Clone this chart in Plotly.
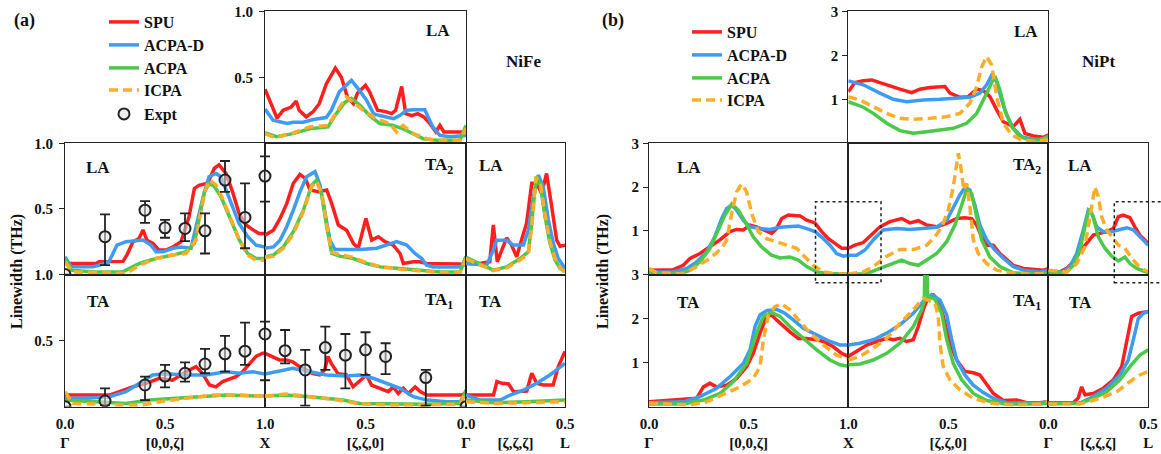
import plotly.graph_objects as go

# ======================= DATA : NiFe (panel a) =======================
# zeta along each path, linewidth in THz
# [zeta,zeta,0] LA (top row, X -> Gamma)
FE_XG_LA_SPU_Z = [1.0, 0.94, 0.91, 0.87, 0.845, 0.83, 0.795, 0.76, 0.73, 0.695, 0.65, 0.62, 0.59, 0.56, 0.54, 0.50, 0.48, 0.44, 0.40, 0.37, 0.35, 0.32, 0.30, 0.27, 0.24, 0.21, 0.18, 0.15, 0.13, 0.11, 0.08, 0.0]
FE_XG_LA_SPU_W = [0.41, 0.19, 0.25, 0.275, 0.32, 0.25, 0.20, 0.24, 0.30, 0.45, 0.57, 0.50, 0.35, 0.30, 0.38, 0.44, 0.39, 0.25, 0.24, 0.225, 0.25, 0.43, 0.225, 0.21, 0.225, 0.20, 0.15, 0.086, 0.136, 0.086, 0.086, 0.086]
FE_XG_LA_ACPAD_Z = [1.0, 0.96, 0.89, 0.86, 0.81, 0.76, 0.695, 0.67, 0.63, 0.595, 0.57, 0.535, 0.495, 0.46, 0.43, 0.36, 0.33, 0.295, 0.26, 0.205, 0.19, 0.165, 0.13, 0.08, 0.0]
FE_XG_LA_ACPAD_W = [0.26, 0.175, 0.15, 0.16, 0.16, 0.18, 0.195, 0.25, 0.39, 0.44, 0.477, 0.41, 0.326, 0.225, 0.21, 0.187, 0.21, 0.25, 0.255, 0.255, 0.21, 0.124, 0.06, 0.05, 0.06]
FE_XG_LA_ACPA_Z = [1.0, 0.944, 0.861, 0.778, 0.687, 0.645, 0.603, 0.57, 0.529, 0.479, 0.429, 0.362, 0.313, 0.263, 0.213, 0.146, 0.03, 0.0]
FE_XG_LA_ACPA_W = [0.08, 0.05, 0.073, 0.11, 0.124, 0.225, 0.31, 0.34, 0.29, 0.21, 0.15, 0.136, 0.11, 0.073, 0.035, 0.023, 0.023, 0.136]
FE_XG_LA_ICPA_Z = [1.0, 0.953, 0.861, 0.778, 0.687, 0.645, 0.595, 0.562, 0.512, 0.446, 0.379, 0.346, 0.313, 0.263, 0.196, 0.146, 0.03, 0.0]
FE_XG_LA_ICPA_W = [0.073, 0.043, 0.078, 0.124, 0.136, 0.237, 0.351, 0.313, 0.25, 0.187, 0.149, 0.086, 0.136, 0.073, 0.035, 0.023, 0.023, 0.111]

# [0,0,zeta] LA (Gamma -> X, middle row)
FE_GX_LA_SPU_Z = [0.0, 0.155, 0.17, 0.22, 0.29, 0.31, 0.34, 0.37, 0.39, 0.41, 0.44, 0.47, 0.505, 0.54, 0.58, 0.62, 0.647, 0.67, 0.713, 0.747, 0.77, 0.805, 0.84, 0.87, 0.905, 0.94, 0.97, 1.0]
FE_GX_LA_SPU_W = [0.084, 0.084, 0.097, 0.10, 0.10, 0.15, 0.25, 0.275, 0.34, 0.26, 0.237, 0.186, 0.186, 0.21, 0.25, 0.44, 0.656, 0.68, 0.695, 0.81, 0.835, 0.77, 0.62, 0.466, 0.377, 0.34, 0.313, 0.313]
FE_GX_LA_ACPAD_Z = [0.0, 0.03, 0.14, 0.17, 0.22, 0.26, 0.305, 0.39, 0.43, 0.455, 0.49, 0.54, 0.58, 0.63, 0.663, 0.697, 0.72, 0.755, 0.78, 0.82, 0.87, 0.913, 0.955, 1.0]
FE_GX_LA_ACPAD_W = [0.135, 0.06, 0.06, 0.07, 0.097, 0.224, 0.25, 0.262, 0.224, 0.173, 0.173, 0.2, 0.21, 0.2, 0.415, 0.63, 0.745, 0.77, 0.745, 0.593, 0.39, 0.29, 0.224, 0.21]
FE_GX_LA_ACPA_Z = [0.0, 0.03, 0.155, 0.288, 0.372, 0.455, 0.538, 0.605, 0.647, 0.672, 0.697, 0.722, 0.747, 0.78, 0.822, 0.872, 0.913, 0.955, 1.0]
FE_GX_LA_ACPA_W = [0.122, 0.033, 0.02, 0.02, 0.084, 0.122, 0.148, 0.173, 0.237, 0.44, 0.63, 0.695, 0.67, 0.593, 0.44, 0.262, 0.16, 0.122, 0.122]
FE_GX_LA_ICPA_Z = [0.0, 0.038, 0.305, 0.372, 0.455, 0.538, 0.605, 0.655, 0.68, 0.705, 0.725, 0.755, 0.788, 0.83, 0.872, 0.913, 0.955, 1.0]
FE_GX_LA_ICPA_W = [0.097, 0.02, 0.008, 0.071, 0.122, 0.148, 0.16, 0.262, 0.491, 0.656, 0.72, 0.682, 0.58, 0.427, 0.262, 0.148, 0.109, 0.109]

# [zeta,zeta,0] TA2 (X -> Gamma, middle row)
FE_XG_TA2_SPU_Z = [1.0, 0.958, 0.925, 0.892, 0.859, 0.826, 0.80, 0.776, 0.735, 0.693, 0.668, 0.635, 0.594, 0.56, 0.536, 0.498, 0.469, 0.436, 0.403, 0.362, 0.328, 0.312, 0.262, 0.229, 0.196, 0.146, 0.096, 0.03, 0.0]
FE_XG_TA2_SPU_W = [0.30, 0.338, 0.427, 0.54, 0.695, 0.763, 0.733, 0.644, 0.631, 0.644, 0.54, 0.377, 0.338, 0.237, 0.20, 0.427, 0.262, 0.288, 0.25, 0.224, 0.16, 0.084, 0.097, 0.097, 0.084, 0.084, 0.08, 0.08, 0.072]
FE_XG_TA2_ACPAD_Z = [1.0, 0.958, 0.925, 0.892, 0.859, 0.826, 0.793, 0.751, 0.726, 0.701, 0.677, 0.652, 0.61, 0.527, 0.444, 0.395, 0.345, 0.295, 0.254, 0.22, 0.196, 0.163, 0.096, 0.022, 0.0]
FE_XG_TA2_ACPAD_W = [0.2, 0.21, 0.262, 0.364, 0.49, 0.63, 0.745, 0.784, 0.68, 0.466, 0.262, 0.19, 0.19, 0.19, 0.2, 0.224, 0.25, 0.224, 0.16, 0.122, 0.071, 0.058, 0.058, 0.058, 0.135]
FE_XG_TA2_ACPA_Z = [1.0, 0.958, 0.909, 0.859, 0.809, 0.768, 0.743, 0.718, 0.693, 0.668, 0.627, 0.561, 0.494, 0.428, 0.328, 0.229, 0.129, 0.03, 0.0]
FE_XG_TA2_ACPA_W = [0.135, 0.148, 0.21, 0.326, 0.49, 0.68, 0.72, 0.606, 0.364, 0.16, 0.14, 0.122, 0.084, 0.058, 0.046, 0.033, 0.02, 0.02, 0.135]
FE_XG_TA2_ICPA_Z = [1.0, 0.958, 0.909, 0.859, 0.809, 0.768, 0.743, 0.718, 0.693, 0.668, 0.627, 0.561, 0.494, 0.428, 0.328, 0.229, 0.129, 0.03, 0.0]
FE_XG_TA2_ICPA_W = [0.13, 0.14, 0.2, 0.31, 0.48, 0.67, 0.71, 0.62, 0.38, 0.17, 0.15, 0.13, 0.09, 0.06, 0.04, 0.03, 0.015, 0.015, 0.12]

# [zeta,zeta,zeta] LA (Gamma -> L, middle row)
FE_GL_LA_SPU_Z = [0.0, 0.07, 0.12, 0.138, 0.158, 0.18, 0.205, 0.23, 0.256, 0.28, 0.306, 0.332, 0.357, 0.382, 0.407, 0.433, 0.458, 0.475, 0.5]
FE_GL_LA_SPU_W = [0.084, 0.084, 0.097, 0.377, 0.097, 0.186, 0.28, 0.224, 0.135, 0.262, 0.39, 0.695, 0.695, 0.618, 0.77, 0.517, 0.262, 0.216, 0.224]
FE_GL_LA_ACPAD_Z = [0.0, 0.104, 0.138, 0.155, 0.205, 0.239, 0.29, 0.315, 0.34, 0.365, 0.39, 0.416, 0.441, 0.466, 0.5]
FE_GL_LA_ACPAD_W = [0.084, 0.071, 0.186, 0.262, 0.262, 0.224, 0.224, 0.338, 0.593, 0.758, 0.67, 0.415, 0.237, 0.122, 0.046]
FE_GL_LA_ACPA_Z = [0.0, 0.138, 0.205, 0.273, 0.315, 0.332, 0.354, 0.374, 0.399, 0.424, 0.45, 0.475, 0.5]
FE_GL_LA_ACPA_W = [0.13, 0.033, 0.058, 0.122, 0.173, 0.39, 0.745, 0.695, 0.44, 0.237, 0.109, 0.046, 0.02]
FE_GL_LA_ICPA_Z = [0.0, 0.138, 0.205, 0.273, 0.315, 0.332, 0.354, 0.374, 0.399, 0.424, 0.45, 0.475, 0.5]
FE_GL_LA_ICPA_W = [0.12, 0.03, 0.05, 0.11, 0.16, 0.37, 0.74, 0.71, 0.46, 0.25, 0.12, 0.05, 0.02]

# [0,0,zeta] TA (Gamma -> X, bottom row)
FE_GX_TA_SPU_Z = [0.0, 0.105, 0.222, 0.272, 0.338, 0.405, 0.472, 0.538, 0.605, 0.655, 0.688, 0.722, 0.755, 0.788, 0.822, 0.855, 0.888, 0.922, 0.955, 0.988, 1.0]
FE_GX_TA_SPU_W = [0.088, 0.088, 0.088, 0.114, 0.15, 0.177, 0.215, 0.2, 0.265, 0.303, 0.25, 0.164, 0.15, 0.19, 0.207, 0.227, 0.265, 0.328, 0.38, 0.404, 0.404]
FE_GX_TA_ACPAD_Z = [0.0, 0.105, 0.222, 0.305, 0.372, 0.438, 0.505, 0.605, 0.705, 0.805, 0.872, 0.938, 1.0]
FE_GX_TA_ACPAD_W = [0.063, 0.063, 0.076, 0.114, 0.177, 0.24, 0.25, 0.24, 0.24, 0.265, 0.253, 0.265, 0.248]
FE_GX_TA_ACPA_Z = [0.0, 0.138, 0.305, 0.422, 0.555, 0.672, 0.805, 1.0]
FE_GX_TA_ACPA_W = [0.05, 0.038, 0.025, 0.05, 0.063, 0.076, 0.088, 0.08]
FE_GX_TA_ICPA_Z = [0.0, 0.038, 0.305, 0.388, 0.472, 0.605, 0.738, 0.872, 1.0]
FE_GX_TA_ICPA_W = [0.114, 0.025, 0.013, 0.013, 0.038, 0.063, 0.088, 0.088, 0.08]

# [zeta,zeta,0] TA1 (X -> Gamma, bottom row)
FE_XG_TA1_SPU_Z = [1.0, 0.962, 0.928, 0.895, 0.862, 0.828, 0.795, 0.762, 0.728, 0.703, 0.687, 0.67, 0.637, 0.595, 0.562, 0.528, 0.495, 0.47, 0.445, 0.412, 0.387, 0.362, 0.337, 0.312, 0.287, 0.253, 0.228, 0.195, 0.128, 0.028, 0.0]
FE_XG_TA1_SPU_W = [0.404, 0.38, 0.354, 0.354, 0.34, 0.303, 0.278, 0.25, 0.24, 0.278, 0.38, 0.328, 0.25, 0.24, 0.15, 0.2, 0.24, 0.164, 0.15, 0.126, 0.114, 0.15, 0.1, 0.139, 0.1, 0.15, 0.114, 0.088, 0.088, 0.088, 0.1]
FE_XG_TA1_ACPAD_Z = [1.0, 0.945, 0.862, 0.778, 0.695, 0.595, 0.528, 0.462, 0.395, 0.328, 0.262, 0.195, 0.095, 0.028, 0.0]
FE_XG_TA1_ACPAD_W = [0.248, 0.265, 0.29, 0.265, 0.24, 0.232, 0.24, 0.215, 0.177, 0.139, 0.076, 0.05, 0.038, 0.038, 0.114]
FE_XG_TA1_ACPA_Z = [1.0, 0.895, 0.778, 0.612, 0.528, 0.362, 0.195, 0.028, 0.0]
FE_XG_TA1_ACPA_W = [0.08, 0.088, 0.076, 0.05, 0.025, 0.02, 0.018, 0.025, 0.126]
FE_XG_TA1_ICPA_Z = [1.0, 0.895, 0.778, 0.612, 0.528, 0.362, 0.195, 0.028, 0.0]
FE_XG_TA1_ICPA_W = [0.08, 0.096, 0.076, 0.045, 0.02, 0.013, 0.013, 0.02, 0.114]

# [zeta,zeta,zeta] TA (Gamma -> L, bottom row)
FE_GL_TA_SPU_Z = [0.0, 0.139, 0.156, 0.181, 0.215, 0.24, 0.307, 0.332, 0.357, 0.39, 0.44, 0.466, 0.5]
FE_GL_TA_SPU_W = [0.088, 0.088, 0.19, 0.177, 0.172, 0.114, 0.119, 0.253, 0.177, 0.164, 0.164, 0.303, 0.417]
FE_GL_TA_ACPAD_Z = [0.0, 0.072, 0.173, 0.223, 0.29, 0.357, 0.424, 0.5]
FE_GL_TA_ACPAD_W = [0.088, 0.05, 0.05, 0.088, 0.126, 0.177, 0.24, 0.328]
FE_GL_TA_ACPA_Z = [0.0, 0.139, 0.307, 0.5]
FE_GL_TA_ACPA_W = [0.05, 0.03, 0.038, 0.05]
FE_GL_TA_ICPA_Z = [0.0, 0.139, 0.307, 0.5]
FE_GL_TA_ICPA_W = [0.038, 0.025, 0.03, 0.038]

# Experiment (NiFe)
EXP_GX_LA_Z = [0.0, 0.2, 0.4, 0.5, 0.6, 0.7, 0.8, 0.9, 1.0]
EXP_GX_LA_W = [0.0, 0.288, 0.49, 0.356, 0.351, 0.333, 0.72, 0.435, 0.75]
EXP_GX_LA_EP = [0.0, 0.17, 0.07, 0.06, 0.115, 0.133, 0.145, 0.26, 0.15]
EXP_GX_LA_EM = [0.0, 0.217, 0.096, 0.076, 0.097, 0.173, 0.09, 0.235, 0.195]
EXP_XG_TA2_Z = [1.0]
EXP_XG_TA2_W = [0.75]
EXP_XG_TA2_EP = [0.15]
EXP_XG_TA2_EM = [0.195]
EXP_GX_TA_Z = [0.0, 0.2, 0.4, 0.5, 0.6, 0.7, 0.8, 0.9, 1.0]
EXP_GX_TA_W = [0.0, 0.043, 0.164, 0.232, 0.253, 0.323, 0.40, 0.42, 0.55]
EXP_GX_TA_EP = [0.0, 0.096, 0.063, 0.084, 0.083, 0.114, 0.135, 0.216, 0.094]
EXP_GX_TA_EM = [0.0, 0.03, 0.114, 0.086, 0.063, 0.07, 0.135, 0.104, 0.35]
EXP_XG_TA1_Z = [1.0, 0.9, 0.8, 0.7, 0.6, 0.5, 0.4, 0.2, 0.0]
EXP_XG_TA1_W = [0.55, 0.424, 0.278, 0.447, 0.39, 0.43, 0.38, 0.22, 0.0]
EXP_XG_TA1_EP = [0.094, 0.156, 0.152, 0.159, 0.16, 0.133, 0.1, 0.058, 0.0]
EXP_XG_TA1_EM = [0.35, 0.096, 0.27, 0.169, 0.251, 0.19, 0.133, 0.212, 0.0]

# ======================= DATA : NiPt (panel b) =======================
PT_XG_LA_SPU_Z = [1.0, 0.967, 0.925, 0.883, 0.842, 0.792, 0.742, 0.683, 0.642, 0.592, 0.542, 0.517, 0.492, 0.442, 0.40, 0.358, 0.325, 0.292, 0.258, 0.225, 0.175, 0.142, 0.117, 0.075, 0.025, 0.0]
PT_XG_LA_SPU_W = [1.17, 1.38, 1.42, 1.44, 1.38, 1.30, 1.23, 1.15, 1.23, 1.27, 1.29, 1.29, 1.14, 1.045, 1.06, 1.23, 1.2, 1.06, 0.76, 0.49, 0.38, 0.545, 0.227, 0.167, 0.136, 0.19]
PT_XG_LA_ACPAD_Z = [1.0, 0.925, 0.842, 0.775, 0.708, 0.625, 0.542, 0.458, 0.392, 0.342, 0.308, 0.283, 0.258, 0.233, 0.208, 0.175, 0.133, 0.075, 0.025, 0.0]
PT_XG_LA_ACPAD_W = [1.42, 1.33, 1.14, 1.0, 0.947, 0.985, 1.0, 1.02, 1.045, 1.14, 1.33, 1.55, 1.4, 0.985, 0.644, 0.34, 0.15, 0.09, 0.09, 0.17]
PT_XG_LA_ACPA_Z = [1.0, 0.925, 0.875, 0.808, 0.742, 0.675, 0.608, 0.542, 0.475, 0.408, 0.358, 0.317, 0.283, 0.267, 0.242, 0.217, 0.183, 0.142, 0.092, 0.042, 0.0]
PT_XG_LA_ACPA_W = [0.947, 0.82, 0.68, 0.455, 0.288, 0.227, 0.265, 0.3, 0.34, 0.455, 0.68, 1.06, 1.4, 1.53, 1.21, 0.76, 0.38, 0.15, 0.076, 0.076, 0.15]
PT_XG_LA_ICPA_Z = [1.0, 0.942, 0.875, 0.808, 0.742, 0.675, 0.592, 0.508, 0.442, 0.392, 0.358, 0.333, 0.308, 0.283, 0.258, 0.225, 0.183, 0.133, 0.075, 0.0]
PT_XG_LA_ICPA_W = [1.06, 0.985, 0.833, 0.68, 0.568, 0.545, 0.568, 0.606, 0.68, 0.91, 1.29, 1.74, 1.97, 1.78, 1.06, 0.455, 0.19, 0.076, 0.04, 0.08]

PT_GX_LA_SPU_Z = [0.0, 0.122, 0.172, 0.206, 0.256, 0.306, 0.356, 0.406, 0.44, 0.473, 0.507, 0.54, 0.574, 0.615, 0.64, 0.666, 0.699, 0.732, 0.758, 0.791, 0.833, 0.866, 0.9, 0.933, 0.967, 1.0]
PT_GX_LA_SPU_W = [0.1, 0.11, 0.21, 0.37, 0.48, 0.63, 0.79, 0.98, 1.03, 1.02, 1.13, 1.09, 1.02, 0.94, 1.05, 1.28, 1.36, 1.34, 1.34, 1.24, 1.18, 0.98, 0.82, 0.71, 0.6, 0.6]
PT_GX_LA_ACPAD_Z = [0.0, 0.122, 0.19, 0.24, 0.29, 0.33, 0.365, 0.39, 0.415, 0.44, 0.473, 0.507, 0.557, 0.607, 0.657, 0.707, 0.749, 0.791, 0.833, 0.875, 0.908, 0.941, 0.975, 1.0]
PT_GX_LA_ACPAD_W = [0.06, 0.06, 0.14, 0.29, 0.52, 0.86, 1.28, 1.51, 1.59, 1.47, 1.24, 1.09, 1.05, 1.03, 1.08, 1.09, 1.11, 1.05, 0.98, 0.82, 0.67, 0.48, 0.42, 0.44]
PT_GX_LA_ACPA_Z = [0.0, 0.156, 0.206, 0.256, 0.306, 0.348, 0.381, 0.415, 0.448, 0.482, 0.523, 0.565, 0.615, 0.657, 0.707, 0.749, 0.791, 0.841, 0.908, 1.0]
PT_GX_LA_ACPA_W = [0.04, 0.02, 0.1, 0.29, 0.6, 1.02, 1.36, 1.61, 1.47, 1.21, 0.86, 0.63, 0.44, 0.38, 0.4, 0.33, 0.18, 0.06, 0.02, 0.02]
PT_GX_LA_ICPA_Z = [0.0, 0.038, 0.172, 0.239, 0.306, 0.365, 0.39, 0.415, 0.44, 0.465, 0.49, 0.515, 0.548, 0.59, 0.64, 0.691, 0.741, 0.783, 0.824, 0.875, 0.941, 1.0]
PT_GX_LA_ICPA_W = [0.14, 0.04, 0.02, 0.18, 0.37, 0.6, 0.79, 1.4, 1.89, 2.07, 1.89, 1.4, 0.98, 0.82, 0.75, 0.67, 0.6, 0.4, 0.21, 0.06, 0.01, 0.01]

PT_XG_TA2_SPU_Z = [1.0, 0.967, 0.925, 0.883, 0.842, 0.792, 0.733, 0.692, 0.65, 0.608, 0.558, 0.508, 0.458, 0.417, 0.383, 0.358, 0.333, 0.308, 0.275, 0.242, 0.208, 0.175, 0.125, 0.075, 0.025, 0.0]
PT_XG_TA2_SPU_W = [0.6, 0.67, 0.73, 0.9, 1.09, 1.21, 1.28, 1.18, 1.23, 1.13, 1.09, 1.17, 1.28, 1.3, 1.28, 1.13, 0.86, 0.67, 0.67, 0.48, 0.33, 0.21, 0.14, 0.11, 0.1, 0.13]
PT_XG_TA2_ACPAD_Z = [1.0, 0.958, 0.917, 0.875, 0.825, 0.758, 0.692, 0.625, 0.558, 0.508, 0.467, 0.442, 0.417, 0.392, 0.367, 0.342, 0.308, 0.267, 0.225, 0.175, 0.125, 0.042, 0.0]
PT_XG_TA2_ACPAD_W = [0.44, 0.44, 0.56, 0.79, 1.02, 1.05, 1.03, 1.05, 1.08, 1.24, 1.59, 1.82, 1.99, 1.93, 1.59, 1.13, 0.79, 0.56, 0.37, 0.18, 0.1, 0.06, 0.1]
PT_XG_TA2_ACPA_Z = [1.0, 0.908, 0.842, 0.775, 0.733, 0.692, 0.65, 0.608, 0.558, 0.508, 0.467, 0.433, 0.408, 0.383, 0.358, 0.333, 0.292, 0.242, 0.175, 0.075, 0.0]
PT_XG_TA2_ACPA_W = [0.01, 0.02, 0.14, 0.25, 0.33, 0.25, 0.21, 0.33, 0.48, 0.75, 1.13, 1.59, 1.95, 1.85, 1.32, 0.79, 0.4, 0.18, 0.04, 0.01, 0.03]
PT_XG_TA2_ICPA_Z = [1.0, 0.925, 0.875, 0.808, 0.742, 0.675, 0.608, 0.567, 0.533, 0.5, 0.475, 0.458, 0.45, 0.438, 0.422, 0.408, 0.392, 0.375, 0.35, 0.308, 0.258, 0.192, 0.108, 0.0]
PT_XG_TA2_ICPA_W = [0.01, 0.06, 0.18, 0.42, 0.57, 0.57, 0.67, 0.86, 1.09, 1.47, 2.0, 2.47, 2.77, 2.47, 1.93, 2.08, 1.55, 0.79, 0.48, 0.25, 0.1, 0.04, 0.01, 0.03]

PT_GL_LA_SPU_Z = [0.0, 0.058, 0.092, 0.125, 0.158, 0.192, 0.225, 0.258, 0.292, 0.325, 0.35, 0.375, 0.408, 0.433, 0.458, 0.5]
PT_GL_LA_SPU_W = [0.06, 0.06, 0.14, 0.29, 0.52, 0.71, 0.9, 0.94, 0.98, 1.05, 1.32, 1.36, 1.3, 1.09, 0.9, 0.71]
PT_GL_LA_ACPAD_Z = [0.0, 0.075, 0.108, 0.142, 0.175, 0.2, 0.217, 0.242, 0.275, 0.317, 0.358, 0.392, 0.425, 0.458, 0.5]
PT_GL_LA_ACPAD_W = [0.06, 0.06, 0.18, 0.48, 1.02, 1.47, 1.4, 1.09, 0.98, 0.98, 1.03, 1.07, 1.02, 0.86, 0.67]
PT_GL_LA_ACPA_Z = [0.0, 0.092, 0.125, 0.158, 0.183, 0.205, 0.225, 0.25, 0.283, 0.317, 0.35, 0.383, 0.408, 0.442, 0.5]
PT_GL_LA_ACPA_W = [0.04, 0.06, 0.21, 0.56, 1.09, 1.51, 1.32, 0.86, 0.6, 0.42, 0.31, 0.4, 0.25, 0.14, 0.04]
PT_GL_LA_ICPA_Z = [0.0, 0.092, 0.142, 0.183, 0.208, 0.233, 0.25, 0.267, 0.292, 0.317, 0.35, 0.383, 0.417, 0.458, 0.5]
PT_GL_LA_ICPA_W = [0.1, 0.06, 0.25, 0.63, 1.32, 2.0, 1.78, 1.32, 1.02, 0.86, 0.67, 0.6, 0.37, 0.16, 0.06]

PT_GX_TA_SPU_Z = [0.0, 0.139, 0.239, 0.273, 0.306, 0.339, 0.39, 0.44, 0.49, 0.523, 0.557, 0.59, 0.615, 0.64, 0.674, 0.707, 0.749, 0.791, 0.841, 0.875, 0.925, 0.967, 1.0]
PT_GX_TA_SPU_W = [0.11, 0.15, 0.19, 0.45, 0.53, 0.45, 0.49, 0.64, 0.91, 1.21, 1.67, 2.05, 2.08, 1.97, 1.82, 1.7, 1.55, 1.55, 1.52, 1.48, 1.36, 1.21, 1.14]
PT_GX_TA_ACPAD_Z = [0.0, 0.172, 0.256, 0.339, 0.406, 0.473, 0.507, 0.532, 0.557, 0.59, 0.64, 0.682, 0.724, 0.774, 0.841, 0.908, 0.958, 1.0]
PT_GX_TA_ACPAD_W = [0.09, 0.11, 0.23, 0.42, 0.68, 0.98, 1.29, 1.82, 2.08, 2.18, 2.21, 2.12, 1.97, 1.78, 1.63, 1.48, 1.4, 1.4]
PT_GX_TA_ACPA_Z = [0.0, 0.172, 0.273, 0.356, 0.423, 0.49, 0.54, 0.574, 0.615, 0.657, 0.707, 0.774, 0.841, 0.908, 0.958, 1.0]
PT_GX_TA_ACPA_W = [0.06, 0.06, 0.15, 0.3, 0.57, 0.98, 1.67, 2.05, 2.14, 2.05, 1.82, 1.55, 1.29, 1.06, 0.95, 0.92]
PT_GX_TA_ICPA_Z = [0.0, 0.206, 0.289, 0.373, 0.457, 0.523, 0.557, 0.574, 0.599, 0.632, 0.666, 0.707, 0.758, 0.808, 0.875, 0.941, 1.0]
PT_GX_TA_ICPA_W = [0.08, 0.04, 0.11, 0.27, 0.45, 0.64, 0.91, 1.52, 2.08, 2.27, 2.33, 2.2, 1.93, 1.67, 1.4, 1.17, 1.08]

PT_XG_TA1_SPU_Z = [1.0, 0.958, 0.908, 0.858, 0.808, 0.775, 0.742, 0.708, 0.675, 0.65, 0.625, 0.6, 0.575, 0.55, 0.525, 0.492, 0.458, 0.417, 0.375, 0.342, 0.308, 0.275, 0.225, 0.158, 0.108, 0.042, 0.0]
PT_XG_TA1_SPU_W = [1.14, 1.25, 1.4, 1.48, 1.55, 1.52, 1.55, 1.48, 1.52, 1.82, 2.2, 2.5, 2.54, 2.42, 2.05, 1.44, 1.06, 0.8, 0.77, 0.72, 0.49, 0.3, 0.14, 0.15, 0.09, 0.09, 0.11]
PT_XG_TA1_ACPAD_Z = [1.0, 0.942, 0.875, 0.808, 0.742, 0.675, 0.625, 0.583, 0.542, 0.508, 0.483, 0.458, 0.417, 0.375, 0.325, 0.275, 0.208, 0.125, 0.042, 0.0]
PT_XG_TA1_ACPAD_W = [1.4, 1.44, 1.52, 1.67, 1.86, 2.12, 2.39, 2.54, 2.42, 2.08, 1.52, 1.06, 0.72, 0.49, 0.32, 0.19, 0.09, 0.08, 0.08, 0.11]
PT_XG_TA1_ACPA_Z = [1.0, 0.942, 0.875, 0.808, 0.742, 0.675, 0.633, 0.62, 0.617, 0.607, 0.603, 0.567, 0.533, 0.508, 0.475, 0.433, 0.375, 0.308, 0.208, 0.042, 0.0]
PT_XG_TA1_ACPA_W = [0.95, 0.97, 1.06, 1.21, 1.44, 1.82, 2.2, 2.4, 3.3, 3.3, 2.5, 2.44, 2.12, 1.52, 0.98, 0.61, 0.3, 0.14, 0.06, 0.06, 0.09]
PT_XG_TA1_ICPA_Z = [1.0, 0.942, 0.875, 0.808, 0.742, 0.675, 0.625, 0.6, 0.567, 0.55, 0.542, 0.525, 0.492, 0.442, 0.375, 0.292, 0.175, 0.042, 0.0]
PT_XG_TA1_ICPA_W = [1.06, 1.14, 1.33, 1.55, 1.89, 2.2, 2.46, 2.42, 2.35, 2.05, 1.44, 0.91, 0.61, 0.38, 0.19, 0.08, 0.04, 0.06, 0.12]

PT_GL_TA_SPU_Z = [0.0, 0.125, 0.15, 0.167, 0.183, 0.225, 0.275, 0.325, 0.367, 0.392, 0.417, 0.45, 0.492, 0.5]
PT_GL_TA_SPU_W = [0.09, 0.09, 0.2, 0.45, 0.27, 0.3, 0.42, 0.61, 0.91, 1.52, 2.05, 2.12, 2.16, 2.16]
PT_GL_TA_ACPAD_Z = [0.0, 0.158, 0.225, 0.292, 0.358, 0.4, 0.425, 0.45, 0.475, 0.5]
PT_GL_TA_ACPAD_W = [0.08, 0.08, 0.23, 0.42, 0.72, 1.06, 1.52, 2.0, 2.12, 2.16]
PT_GL_TA_ACPA_Z = [0.0, 0.158, 0.225, 0.292, 0.358, 0.408, 0.458, 0.5]
PT_GL_TA_ACPA_W = [0.06, 0.08, 0.19, 0.34, 0.61, 0.91, 1.17, 1.29]
PT_GL_TA_ICPA_Z = [0.0, 0.158, 0.258, 0.342, 0.408, 0.458, 0.5]
PT_GL_TA_ICPA_W = [0.06, 0.06, 0.19, 0.34, 0.57, 0.72, 0.8]

SERIES = ["SPU", "ACPA-D", "ACPA", "ICPA"]
CELLS = ["XG_LA", "GX_LA", "XG_TA2", "GL_LA", "GX_TA", "XG_TA1", "GL_TA"]
CELL_LABELS = {"XG_LA": "LA", "GX_LA": "LA", "XG_TA2": "TA<sub>2</sub>", "GL_LA": "LA",
               "GX_TA": "TA", "XG_TA1": "TA<sub>1</sub>", "GL_TA": "TA"}
X_TICKS = {
    "GX": ([0.0, 0.5, 1.0], ["0.0<br>Γ", "0.5<br>[0,0,ζ]", "1.0<br>X"]),
    "XG": ([0.5, 0.0], ["0.5<br>[ζ,ζ,0]", "0.0<br>Γ"]),
    "GL": ([0.25, 0.5], ["\u00a0<br>[ζ,ζ,ζ]", "0.5<br>L"]),
}
Y_TICKS_FE = ([0.5, 1.0], ["0.5", "1.0"])
Y_TICKS_PT = ([1, 2, 3], ["1", "2", "3"])

g = globals()
def curves(prefix, cell):
    keys = ["SPU", "ACPAD", "ACPA", "ICPA"]
    return [(g[f"{prefix}_{cell}_{k}_Z"], g[f"{prefix}_{cell}_{k}_W"]) for k in keys]

FE_DATA = {c: curves("FE", c) for c in CELLS}
PT_DATA = {c: curves("PT", c) for c in CELLS}
FE_EXP = {c: (g[f"EXP_{c}_Z"], g[f"EXP_{c}_W"], g[f"EXP_{c}_EP"], g[f"EXP_{c}_EM"])
          for c in ["GX_LA", "XG_TA2", "GX_TA", "XG_TA1"]}

# ======================= STYLE / LAYOUT =======================
W, H = 1161, 454
OFF = 0  # page body margin is reset to 0 by post_script
FONT = "Liberation Serif"
COLORS = {"SPU": "#ff1f1f", "ACPA-D": "#3d9cf2", "ACPA": "#4cc84a", "ICPA": "#ffad29"}
DASHES = {"SPU": "solid", "ACPA-D": "solid", "ACPA": "solid", "ICPA": "9px,5px"}
FRAME = "#222222"

ROWS = [(11.3, 143.3), (143.3, 274.5), (274.5, 406.7)]
PANELS = [
    dict(cols=[(65, 265), (265, 466), (466, 565)], data=FE_DATA, yr=[0, 1], yt=Y_TICKS_FE,
         name="NiFe", namepos=(523, 62), tag="(a)", tagpos=(24, 20), ytitle=17,
         legx=104, legy={"SPU": 22, "ACPA-D": 45, "ACPA": 68, "ICPA": 90, "Expt": 114},
         labels=[(438, 31), (98, 167), (439, 166), (491, 166), (98, 301), (439, 301), (490, 301)]),
    dict(cols=[(649, 848.3), (848.3, 1048.3), (1048.3, 1148.3)], data=PT_DATA, yr=[0, 3], yt=Y_TICKS_PT,
         name="NiPt", namepos=(1098, 62), tag="(b)", tagpos=(613, 20), ytitle=603,
         legx=687, legy={"SPU": 32, "ACPA-D": 55, "ACPA": 78, "ICPA": 100},
         labels=[(1026, 32), (689, 167), (1027, 166), (1080, 166), (688, 302), (1027, 302), (1080, 302)]),
]
CELL_POS = {"XG_LA": (1, 0), "GX_LA": (0, 1), "XG_TA2": (1, 1), "GL_LA": (2, 1),
            "GX_TA": (0, 2), "XG_TA1": (1, 2), "GL_TA": (2, 2)}
X_RANGE = {"GX": [0, 1], "XG": [1, 0], "GL": [0, 0.5]}

fx = lambda p: (p - OFF) / W
fy = lambda p: 1 - (p - OFF) / H

def note(text, px, py, size, angle=0):
    return dict(x=fx(px), y=fy(py), xref="paper", yref="paper", text=text, showarrow=False,
                xanchor="center", yanchor="middle", textangle=angle,
                font=dict(family=FONT, size=size, color="#111", weight="bold"))

fig = go.Figure()
layout = {}
annotations = []
legends = {}
n = 0
leg_n = 0
for pi, P in enumerate(PANELS):
    leg_id = {}
    for s in list(P["legy"].keys()):
        leg_n += 1
        lid = "legend" if leg_n == 1 else f"legend{leg_n}"
        leg_id[s] = lid
        legends[lid] = dict(x=fx(P["legx"]), y=fy(P["legy"][s]), xanchor="left", yanchor="middle",
                            bgcolor="rgba(0,0,0,0)", borderwidth=0,
                            font=dict(family=FONT, size=16, color="#111", weight="bold"),
                            itemclick=False, itemdoubleclick=False)
    shown = set()
    for cell in CELLS:
        n += 1
        xk, yk = ("xaxis", "yaxis") if n == 1 else (f"xaxis{n}", f"yaxis{n}")
        xr, yr = ("x", "y") if n == 1 else (f"x{n}", f"y{n}")
        ci, ri = CELL_POS[cell]
        c0, c1 = P["cols"][ci]
        r0, r1 = ROWS[ri]
        path = cell[:2]
        bottom = ri == 2
        left_ticks = (ci == 0) or (cell == "XG_LA")
        xa = dict(domain=[fx(c0), fx(c1)], range=X_RANGE[path], anchor=yr,
                  showline=True, mirror=True, linecolor=FRAME, linewidth=1,
                  showgrid=False, zeroline=False, fixedrange=True,
                  showticklabels=bottom, automargin=False)
        if bottom:
            tv, tt = X_TICKS[path]
            xa.update(tickmode="array", tickvals=tv, ticktext=tt, ticks="outside",
                      ticklen=3, tickcolor="rgba(0,0,0,0)", ticklabeloverflow="allow",
                      tickfont=dict(family=FONT, size=15, color="#111", weight="bold"))
        else:
            xa.update(ticks="")
        ya = dict(domain=[fy(r1), fy(r0)], range=P["yr"], anchor=xr,
                  showline=True, mirror=True, linecolor=FRAME, linewidth=1,
                  showgrid=False, zeroline=False, fixedrange=True,
                  showticklabels=left_ticks, automargin=False)
        if left_ticks:
            ya.update(tickmode="array", tickvals=P["yt"][0], ticktext=P["yt"][1],
                      ticks="outside", ticklen=5, tickcolor=FRAME, tickwidth=1,
                      ticklabelstandoff=3 if pi == 0 else 1, ticklabeloverflow="allow",
                      tickfont=dict(family=FONT, size=15, color="#111", weight="bold"))
        else:
            ya.update(ticks="")
        layout[xk] = xa
        layout[yk] = ya

        for s, (z, w) in zip(SERIES, P["data"][cell]):
            fig.add_trace(go.Scatter(
                x=z, y=w, mode="lines", name=s, xaxis=xr, yaxis=yr,
                line=dict(color=COLORS[s], width=3.5, dash=DASHES[s]),
                legend=leg_id[s], showlegend=s not in shown, hoverinfo="skip"))
            shown.add(s)
        if pi == 0 and cell in FE_EXP:
            z, w, ep, em = FE_EXP[cell]
            fig.add_trace(go.Scatter(
                x=z, y=w, mode="markers", name="Expt", xaxis=xr, yaxis=yr,
                marker=dict(symbol="circle", size=11, color="rgba(225,225,225,0.55)",
                            line=dict(color="#222", width=2)),
                error_y=dict(type="data", symmetric=False, array=ep, arrayminus=em,
                             color="#222", thickness=1.8, width=5),
                legend=leg_id["Expt"], showlegend="Expt" not in shown, hoverinfo="skip"))
            shown.add("Expt")
        lx, ly = P["labels"][CELLS.index(cell)]
        annotations.append(note(CELL_LABELS[cell], lx, ly, 17))
    annotations.append(note(P["name"], *P["namepos"], 17))
    annotations.append(note(P["tag"], *P["tagpos"], 18))
    annotations.append(note("Linewidth (THz)", P["ytitle"], 272, 16, angle=-90))

shapes = [
    dict(type="rect", xref="paper", yref="paper", x0=fx(815.5), x1=fx(881), y0=fy(282.7), y1=fy(201.7),
         line=dict(color=FRAME, width=1.5, dash="dot")),
    dict(type="rect", xref="paper", yref="paper", x0=fx(1114.3), x1=fx(1175), y0=fy(282.7), y1=fy(201.7),
         line=dict(color=FRAME, width=1.5, dash="dot")),
]

fig.update_layout(
    width=W, height=H, autosize=False,
    margin=dict(l=0, r=0, t=0, b=0, pad=0, autoexpand=False),
    paper_bgcolor="white", plot_bgcolor="white",
    font=dict(family=FONT, size=15, color="#111"),
    annotations=annotations, shapes=shapes,
    **legends, **layout,
)
fig.write_html("out.html", config={"displayModeBar": False},
               post_script="document.body.style.margin='0';")
